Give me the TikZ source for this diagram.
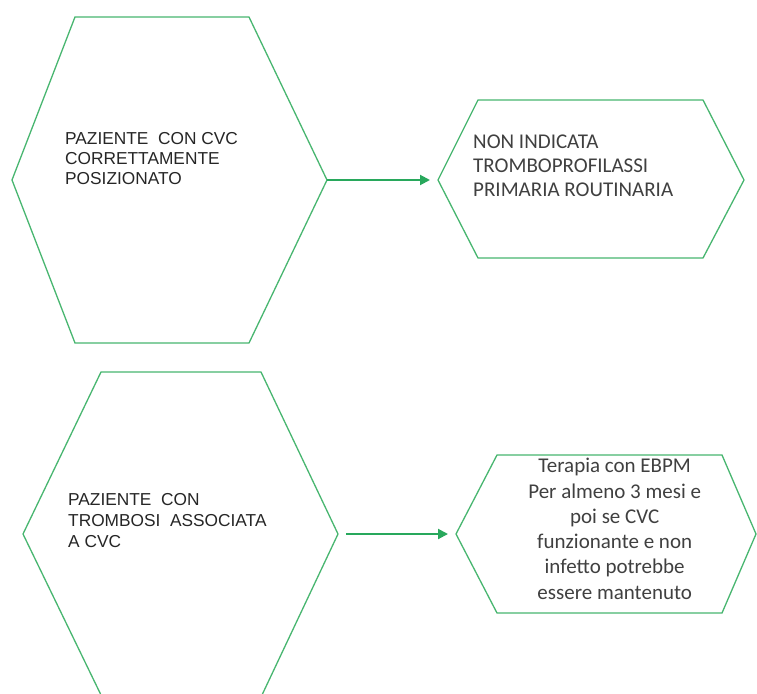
\documentclass[tikz,border=0pt]{standalone}
\usepackage{fontspec}
\setmainfont{Liberation Sans}
\newfontfamily\calib{Carlito}
\usetikzlibrary{arrows.meta}
\definecolor{hexgreen}{RGB}{72,182,112}
\definecolor{arrgreen}{RGB}{40,168,92}
\definecolor{txtdark}{RGB}{38,38,38}
\definecolor{txtgray}{RGB}{64,64,64}
\begin{document}
\begin{tikzpicture}[x=1pt,y=-1pt,
  hexline/.style={draw=hexgreen,line width=1.3pt,line join=miter},
  arrowline/.style={draw=arrgreen,line width=2pt,-{Triangle[length=10pt,width=10pt]}},
  arialtext/.style={inner sep=0pt,anchor=base west,align=left,text=txtdark,
    font=\fontsize{17.3}{19.6}\selectfont},
  calibleft/.style={inner sep=0pt,anchor=base west,align=left,text=txtgray,
    font=\calib\fontsize{21}{24}\selectfont},
  calibcenter/.style={inner sep=0pt,anchor=base,align=center,text=txtgray,
    font=\calib\fontsize{21}{25.3}\selectfont}]
\useasboundingbox (0,0) rectangle (757,693);
\clip (0,0) rectangle (757,693);
\fill[white] (0,0) rectangle (757,693);
% hexagon 1
\coordinate (h1-tl) at (75,17);
\coordinate (h1-tr) at (249,17);
\coordinate (h1-e) at (327,180);
\coordinate (h1-br) at (249,343);
\coordinate (h1-bl) at (75,343);
\coordinate (h1-w) at (12,180);
% hexagon 2
\coordinate (h2-tl) at (478,100);
\coordinate (h2-tr) at (703,100);
\coordinate (h2-e) at (744,180);
\coordinate (h2-br) at (703,258);
\coordinate (h2-bl) at (478,258);
\coordinate (h2-w) at (438,180);
% hexagon 3
\coordinate (h3-tl) at (101,372);
\coordinate (h3-tr) at (261,372);
\coordinate (h3-e) at (338,534);
\coordinate (h3-br) at (262,695);
\coordinate (h3-bl) at (101,695);
\coordinate (h3-w) at (23,534);
% hexagon 4
\coordinate (h4-tl) at (497,455);
\coordinate (h4-tr) at (722,455);
\coordinate (h4-e) at (756,534);
\coordinate (h4-br) at (722,613);
\coordinate (h4-bl) at (497,613);
\coordinate (h4-w) at (456,534);

\draw[hexline] (h1-tl) -- (h1-tr) -- (h1-e) -- (h1-br) -- (h1-bl) -- (h1-w) -- cycle;
\draw[hexline] (h2-tl) -- (h2-tr) -- (h2-e) -- (h2-br) -- (h2-bl) -- (h2-w) -- cycle;
\draw[hexline] (h3-tl) -- (h3-tr) -- (h3-e) -- (h3-br) -- (h3-bl) -- (h3-w) -- cycle;
\draw[hexline] (h4-tl) -- (h4-tr) -- (h4-e) -- (h4-br) -- (h4-bl) -- (h4-w) -- cycle;

% multi-line nodes: base anchor = baseline of the last line
\node[arialtext] (t1) at (65,184) {PAZIENTE\ \ CON CVC\\CORRETTAMENTE\\POSIZIONATO};
\node[calibleft] (t2) at (473,196.3) {NON INDICATA\\TROMBOPROFILASSI\\PRIMARIA ROUTINARIA};
\node[arialtext,font=\fontsize{17.3}{21.3}\selectfont] (t3) at (68,547.6) {PAZIENTE\ \ CON\\TROMBOSI\ \ ASSOCIATA\\A CVC};
\node[calibcenter] (t4) at (614.7,599.2) {Terapia con EBPM\\Per almeno 3 mesi e\\poi se CVC\\funzionante e non\\infetto potrebbe\\essere mantenuto};

\draw[arrowline,shorten >=8pt] (h1-e) -- (h2-w);
\draw[arrowline,shorten <=8pt,shorten >=8pt] (h3-e) -- (h4-w);
\end{tikzpicture}
\end{document}
